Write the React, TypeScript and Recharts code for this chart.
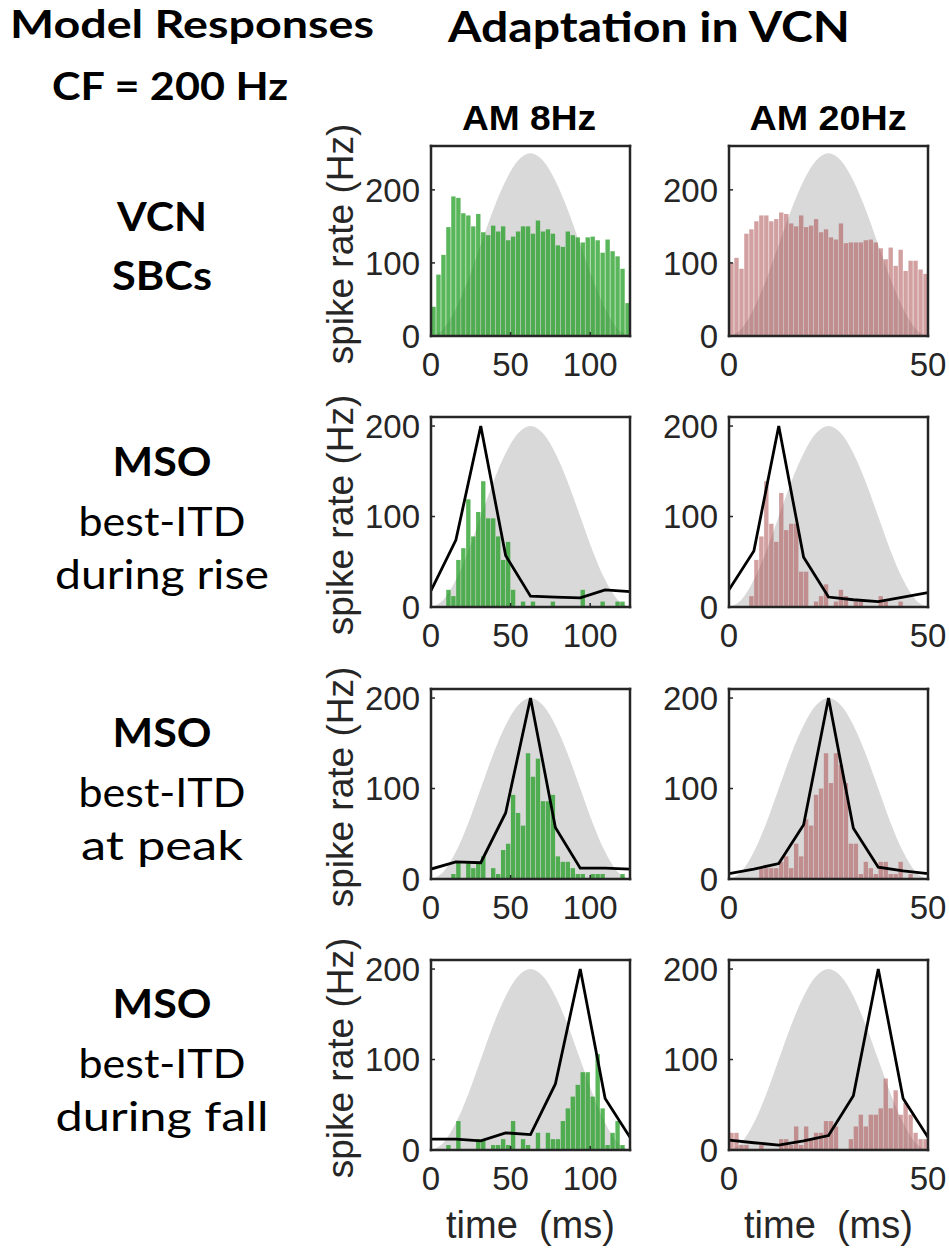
import { ComposedChart, Bar, Area, Line, XAxis, YAxis } from "recharts";

// spike-rate histograms, 40 bins per AM period (Hz)
const vcn8 = [40, 84, 111, 149, 191, 189, 168, 165, 150, 167, 142, 138, 151, 143, 150, 131, 136, 143, 150, 150, 140, 158, 143, 146, 140, 124, 122, 143, 138, 135, 128, 135, 136, 131, 114, 132, 116, 109, 92, 45];
const vcn20 = [100, 107, 92, 140, 146, 157, 165, 165, 157, 160, 169, 167, 154, 150, 165, 149, 151, 160, 142, 146, 135, 132, 154, 127, 128, 128, 128, 131, 132, 128, 120, 105, 121, 96, 118, 89, 103, 103, 91, 85];
const rise8 = [0, 0, 0, 19, 12, 52, 65, 119, 78, 105, 139, 98, 98, 78, 52, 72, 19, 0, 6, 0, 6, 0, 0, 0, 6, 0, 0, 0, 0, 0, 19, 0, 0, 0, 6, 0, 0, 6, 6, 0];
const rise20 = [0, 0, 0, 0, 12, 52, 78, 139, 92, 72, 126, 85, 92, 92, 39, 39, 0, 6, 12, 25, 0, 6, 19, 12, 0, 6, 6, 0, 0, 0, 12, 6, 0, 0, 6, 0, 0, 0, 0, 0];
const peak8 = [0, 0, 0, 0, 5.5, 19, 0, 19, 12, 19, 25, 0, 12, 5.5, 32, 39, 93, 73, 59, 139, 113, 133, 86, 86, 93, 25, 19, 19, 12, 5.5, 5.5, 0, 5.5, 5.5, 5.5, 0, 0, 0, 5.5, 0];
const peak20 = [0, 0, 0, 0, 0, 0, 12, 12, 12, 12, 19, 25, 12, 39, 25, 66, 59, 93, 100, 139, 106, 139, 126, 106, 39, 39, 5.5, 19, 12, 5.5, 19, 19, 5.5, 5.5, 19, 0, 5.5, 0, 0, 0];
const fall8 = [0, 0, 0, 5.5, 0, 32, 0, 0, 0, 12, 12, 0, 5.5, 5.5, 12, 5.5, 32, 0, 12, 5.5, 0, 19, 0, 19, 12, 12, 32, 46, 59, 72, 86, 86, 59, 106, 46, 5.5, 19, 32, 5.5, 0];
const fall20 = [19, 19, 5.5, 5.5, 0, 0, 5.5, 0, 0, 0, 12, 12, 5.5, 26, 5.5, 26, 12, 19, 19, 32, 32, 26, 0, 0, 12, 26, 39, 26, 39, 39, 46, 79, 46, 66, 39, 52, 39, 19, 12, 12];

// MSO model response (black line), 9 points per period
const riseLine8 = [18, 74, 200, 57, 12, 11, 10, 19, 17];
const riseLine20 = [19, 62, 200, 55, 11, 8, 6, 11, 16];
const peakLine8 = [11, 19, 18, 73, 200, 57, 12, 12, 11];
const peakLine20 = [6, 11, 17, 60, 200, 56, 13, 9, 6];
const fallLine8 = [12, 12, 10, 19, 17, 73, 200, 57, 14];
const fallLine20 = [11, 8, 5.5, 10, 16, 60, 200, 57, 14];

// stimulus envelope (% of peak), 17 points per period
const envelopeShape = [0, 4, 15, 31, 50, 69, 85, 96, 100, 96, 85, 69, 50, 31, 15, 4, 0];

const xTicks8 = [0, 50, 100];
const xTicks20 = [0, 50];
const yTicks = [0, 100, 200];

const AXIS = "#262626";
const TICK_FONT = "'Liberation Sans', Arial, sans-serif";
const LABEL_FONT = "Lato, 'Open Sans', sans-serif";

const PLOT_W = 199;
const PLOT_H = 190;
const Y_W = 75;
const M_TOP = 14;
const M_RIGHT = 24;
const BIN_W = PLOT_W / 40;

const colLeft = [431, 729];
const rowTop = [146, 417, 689, 960];

interface PanelProps {
  bars: number[];
  line?: number[];
  period: number;
  ticks: number[];
  peak: number;
  yMax: number;
  color: string;
  opacity: number;
  left: number;
  top: number;
}

function Panel({ bars, line, period, ticks, peak, yMax, color, opacity, left, top }: PanelProps) {
  const barData = bars.map((v, i) => ({ bin: i, v }));
  const envData = envelopeShape.map((p, i) => ({ t: (i * period) / 16, g: (p * peak) / 100 }));
  const lineData = line ? line.map((v, i) => ({ t: (i * period) / 8, v })) : [];
  const axisLine = { stroke: AXIS, strokeWidth: 2.5, strokeLinecap: "square" as const };
  const tickLine = { stroke: AXIS, strokeWidth: 1.5 };

  // histogram bins drawn edge to edge with a hairline gap
  const binShape = (props: any) => {
    const { x, y, width, height } = props;
    if (!height || height <= 0) return <g />;
    const w = BIN_W - 0.6;
    return <rect x={x + width / 2 - w / 2} y={y} width={w} height={height} fill={color} fillOpacity={opacity} />;
  };

  return (
    <div style={{ position: "absolute", left: left - Y_W, top: top - M_TOP - 1 }}>
      <ComposedChart
        width={Y_W + PLOT_W + 1 + M_RIGHT}
        height={M_TOP + 1 + PLOT_H + 56}
        data={barData}
        margin={{ top: M_TOP, right: M_RIGHT, bottom: 0, left: 0 }}
        barCategoryGap={0}
      >
        <XAxis xAxisId="bins" dataKey="bin" type="category" hide height={0} />
        <XAxis
          xAxisId="t"
          dataKey="t"
          type="number"
          domain={[0, period]}
          ticks={ticks}
          interval={0}
          allowDataOverflow
          height={56}
          tickSize={-4}
          tickMargin={21}
          axisLine={axisLine}
          tickLine={tickLine}
          tick={{ fontSize: 33, fill: AXIS, fontFamily: TICK_FONT }}
        />
        <XAxis
          xAxisId="top"
          orientation="top"
          type="number"
          domain={[0, period]}
          ticks={ticks}
          interval={0}
          allowDataOverflow
          height={1}
          tickSize={-4}
          tick={false}
          axisLine={axisLine}
          tickLine={tickLine}
        />
        <YAxis
          yAxisId="l"
          type="number"
          domain={[0, yMax]}
          ticks={yTicks}
          interval={0}
          allowDataOverflow
          width={Y_W}
          tickSize={-4}
          tickMargin={15}
          axisLine={axisLine}
          tickLine={tickLine}
          tick={{ fontSize: 33, fill: AXIS, fontFamily: TICK_FONT }}
        />
        <YAxis
          yAxisId="r"
          orientation="right"
          type="number"
          domain={[0, yMax]}
          ticks={yTicks}
          interval={0}
          allowDataOverflow
          width={1}
          tickSize={-4}
          tick={false}
          axisLine={axisLine}
          tickLine={tickLine}
        />
        <Area
          xAxisId="t"
          yAxisId="l"
          data={envData}
          dataKey="g"
          type="monotone"
          fill="#d9d9d9"
          fillOpacity={1}
          stroke="none"
          isAnimationActive={false}
        />
        <Bar xAxisId="bins" yAxisId="l" dataKey="v" fill={color} shape={binShape} isAnimationActive={false} />
        {line && (
          <Line
            xAxisId="t"
            yAxisId="l"
            data={lineData}
            dataKey="v"
            type="linear"
            stroke="#000"
            strokeWidth={2.8}
            dot={false}
            isAnimationActive={false}
          />
        )}
      </ComposedChart>
    </div>
  );
}

const GREEN = "#1a9a1a";
const RED = "#a84848";

const panels = [
  { bars: vcn8, line: undefined, row: 0, col: 0 },
  { bars: vcn20, line: undefined, row: 0, col: 1 },
  { bars: rise8, line: riseLine8, row: 1, col: 0 },
  { bars: rise20, line: riseLine20, row: 1, col: 1 },
  { bars: peak8, line: peakLine8, row: 2, col: 0 },
  { bars: peak20, line: peakLine20, row: 2, col: 1 },
  { bars: fall8, line: fallLine8, row: 3, col: 0 },
  { bars: fall20, line: fallLine20, row: 3, col: 1 },
];

// left-hand row captions: text, baseline, width, bold
const rowLabels = [
  [
    { s: "VCN", y: 231, w: 90, b: true },
    { s: "SBCs", y: 290, w: 100, b: true },
  ],
  [
    { s: "MSO", y: 476, w: 99, b: true },
    { s: "best-ITD", y: 536, w: 167, b: false },
    { s: "during rise", y: 589, w: 214, b: false },
  ],
  [
    { s: "MSO", y: 747, w: 99, b: true },
    { s: "best-ITD", y: 807, w: 167, b: false },
    { s: "at peak", y: 860, w: 162, b: false },
  ],
  [
    { s: "MSO", y: 1018, w: 99, b: true },
    { s: "best-ITD", y: 1078, w: 167, b: false },
    { s: "during fall", y: 1131, w: 213, b: false },
  ],
];

export default function App() {
  return (
    <div style={{ position: "absolute", left: 0, top: 0, width: 949, height: 1256, background: "#fff", overflow: "hidden" }}>
      <svg width={949} height={1256} style={{ position: "absolute", left: 0, top: 0 }}>
        <g fontFamily={LABEL_FONT} fontWeight={700} fill="#000" textAnchor="middle">
          <text x={192} y={38} fontSize={39} textLength={364} lengthAdjust="spacingAndGlyphs">Model Responses</text>
          <text x={170} y={100} fontSize={39} textLength={236} lengthAdjust="spacingAndGlyphs">CF = 200 Hz</text>
          <text x={649} y={42} fontSize={42} textLength={402} lengthAdjust="spacingAndGlyphs">Adaptation in VCN</text>
        </g>
        <g fontFamily={TICK_FONT} fontWeight={700} fill="#000" textAnchor="middle" fontSize={35}>
          <text x={529} y={130} textLength={134} lengthAdjust="spacingAndGlyphs">AM 8Hz</text>
          <text x={828} y={130} textLength={157} lengthAdjust="spacingAndGlyphs">AM 20Hz</text>
        </g>
        <g fontFamily={LABEL_FONT} fill="#000" textAnchor="middle" fontSize={41}>
          {rowLabels.map((r, ri) =>
            r.map((l, i) => (
              <text
                key={`${ri}-${i}`}
                x={162}
                y={l.y}
                fontWeight={l.b ? 700 : 400}
                textLength={l.w}
                lengthAdjust="spacingAndGlyphs"
              >
                {l.s}
              </text>
            ))
          )}
        </g>
        <g fontFamily={TICK_FONT} fill={AXIS} textAnchor="middle">
          {rowTop.map((t) => (
            <text
              key={t}
              x={340}
              y={t + PLOT_H / 2 + 3}
              fontSize={37}
              transform={`rotate(-90 340 ${t + PLOT_H / 2 + 3})`}
              dominantBaseline="central"
            >
              spike rate (Hz)
            </text>
          ))}
          {colLeft.map((l) => (
            <text key={l} x={l + PLOT_W / 2} y={1238} fontSize={38} xmlSpace="preserve" style={{ whiteSpace: "pre" }}>
              {"time  (ms)"}
            </text>
          ))}
        </g>
      </svg>
      {panels.map((p, i) => (
        <Panel
          key={i}
          bars={p.bars}
          line={p.line}
          period={p.col === 0 ? 125 : 50}
          ticks={p.col === 0 ? xTicks8 : xTicks20}
          peak={p.row === 0 ? 250 : 200}
          yMax={p.row === 0 ? 260 : 210}
          color={p.col === 0 ? GREEN : RED}
          opacity={p.col === 0 ? 0.72 : 0.52}
          left={colLeft[p.col]}
          top={rowTop[p.row]}
        />
      ))}
    </div>
  );
}
